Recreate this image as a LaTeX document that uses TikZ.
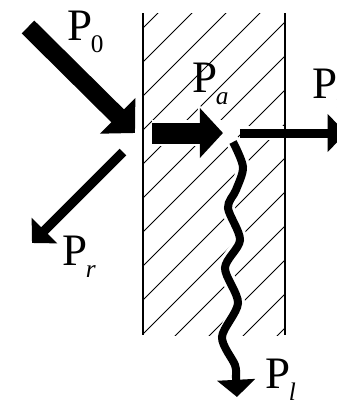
\documentclass[tikz,border=0pt]{standalone}
\usepackage{fontspec}
\setmainfont{Liberation Serif}
\usetikzlibrary{arrows.meta}

\newcommand{\Psub}[1]{P\kern-1pt\raisebox{-9pt}{\fontsize{18}{18}\selectfont #1}}

\tikzset{
  wall/.style={line width=1.8pt},
  hatchline/.style={line width=0.6pt},
  label/.style={anchor=base west, inner sep=0pt, font=\fontsize{32}{36}\selectfont},
  halo/.style={white, line width=#1},
}

\begin{document}
\begin{tikzpicture}[x=0.025cm, y=-0.025cm]
  \useasboundingbox (0,0) rectangle (337,404);
  \clip (0,0) rectangle (337,404);

  % hatched slab
  \begin{scope}
    \clip (143,13) rectangle (285,335);
    \foreach \c in {171,205,...,650}
      \draw[hatchline] ({\c-340},340) -- ({\c-10},10);
  \end{scope}

  \coordinate (p0s) at (28,27);
  \coordinate (p0e) at (135,133);
  \coordinate (prs) at (123,152);
  \coordinate (pre) at (32,243);
  \coordinate (pas) at (152,133);
  \coordinate (pae) at (223,133);
  \coordinate (pts) at (240,133);
  \coordinate (pte) at (346,133);

  % white gaps in the hatching
  \draw[halo=0.65cm] (pas) -- (pae);
  \draw[halo=0.35cm] (pts) -- (285,133);
  \fill[white] (198,104) -- (229,133) -- (198,162) -- cycle;
  \draw[halo=0.35cm, line cap=round] plot[smooth, tension=0.5] coordinates
    {(233,142) (243,167) (236,190) (228,208) (240,240) (225,268) (238,303) (222,337)};

  \draw[wall] (143,13) -- (143,335);
  \draw[wall] (285,13) -- (285,335);

  % arrows
  \draw[line width=0.45cm, -{Triangle[length=0.61cm, width=1.22cm]}] (p0s) -- (p0e);
  \draw[line width=0.235cm, -{Triangle[length=0.44cm, width=0.88cm]}] (prs) -- (pre);
  \draw[line width=0.525cm, -{Triangle[length=0.58cm, width=1.22cm]}] (pas) -- (pae);
  \draw[line width=0.225cm, -{Triangle[length=0.46cm, width=0.93cm]}] (pts) -- (pte);
  \draw[line width=0.2cm, -{Triangle[length=0.43cm, width=0.93cm]}] plot[smooth, tension=0.5] coordinates
    {(233,142) (243,167) (236,190) (228,208) (240,240) (225,268) (238,303) (222,337) (235,365) (236,378) (237,397)};

  % labels
  \node[label] (l0) at (67,40) {\Psub{0}};
  \node[label] (la) at (192,92) {\Psub{\itshape a}};
  \node[label] (lt) at (312,98) {\Psub{\itshape t}};
  \node[label] (lr) at (62,265) {\Psub{\itshape r}};
  \node[label] (ll) at (265,388) {\Psub{\itshape l}};
\end{tikzpicture}
\end{document}
